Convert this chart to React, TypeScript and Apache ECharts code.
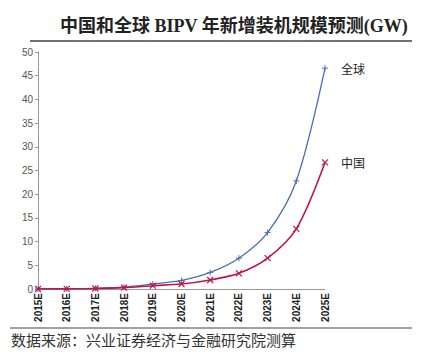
import React, { useEffect, useRef } from "react";
import * as echarts from "echarts";

const categories = ["2015E", "2016E", "2017E", "2018E", "2019E", "2020E", "2021E", "2022E", "2023E", "2024E", "2025E"];
const globalValues = [0.02, 0.05, 0.15, 0.4, 1.05, 1.8, 3.5, 6.5, 11.9, 22.8, 46.6];
const chinaValues = [0.01, 0.03, 0.1, 0.3, 0.7, 1.05, 1.9, 3.3, 6.5, 12.7, 26.7];
const seriesNames = ["全球", "中国"];
const titleText = "中国和全球 BIPV 年新增装机规模预测(GW)";
const sourceText = "数据来源：兴业证券经济与金融研究院测算";

const plusSymbol = "path://M0,5L10,5M5,0L5,10";
const crossSymbol = "path://M0,0L10,10M10,0L0,10";

export default function App() {
  const ref = useRef<HTMLDivElement>(null);
  useEffect(() => {
    const chart = echarts.init(ref.current!, null, { renderer: "svg" });
    chart.setOption({
      animation: false,
      backgroundColor: "#ffffff",
      grid: { left: 38, right: 102, top: 52, bottom: 70 },
      graphic: [
        {
          type: "text",
          left: 60,
          top: 17,
          style: {
            text: titleText,
            font: "bold 18px 'Liberation Serif', 'Noto Sans CJK SC', serif",
            fill: "#222222",
          },
        },
        {
          type: "line",
          shape: { x1: 30, y1: 41, x2: 412, y2: 41 },
          style: { stroke: "#444444", lineWidth: 1.5 },
        },
        {
          type: "line",
          shape: { x1: 10, y1: 328, x2: 412, y2: 328 },
          style: { stroke: "#444444", lineWidth: 1.2 },
        },
        {
          type: "text",
          left: 11,
          top: 332,
          style: {
            text: sourceText,
            font: "15px 'Noto Sans CJK SC', serif",
            fill: "#333333",
          },
        },
      ],
      xAxis: {
        type: "category",
        data: categories,
        boundaryGap: false,
        axisLine: { lineStyle: { color: "#999999", width: 1 } },
        axisTick: { show: false },
        axisLabel: {
          rotate: 90,
          interval: 0,
          color: "#222222",
          fontSize: 10,
          fontWeight: "bold",
          fontFamily: "'Liberation Sans', Arial, sans-serif",
          margin: 4,
        },
      },
      yAxis: {
        type: "value",
        min: 0,
        max: 50,
        interval: 5,
        splitLine: { show: false },
        axisLine: { show: true, lineStyle: { color: "#999999", width: 1 } },
        axisTick: { show: true, inside: false, length: 3, lineStyle: { color: "#999999" } },
        axisLabel: {
          color: "#555555",
          fontSize: 10,
          fontFamily: "'Liberation Sans', Arial, sans-serif",
          margin: 5,
        },
      },
      series: [
        {
          name: seriesNames[0],
          type: "line",
          data: globalValues,
          smooth: 0.3,
          symbol: plusSymbol,
          symbolSize: 6,
          showAllSymbol: true,
          lineStyle: { color: "#4a6db5", width: 1.3 },
          itemStyle: { color: "#4a6db5", borderColor: "#4a6db5", borderWidth: 1 },
          endLabel: {
            show: true,
            formatter: "{a}",
            color: "#222222",
            fontSize: 12,
            fontFamily: "'Noto Sans CJK SC', sans-serif",
            offset: [8, 0],
          },
          z: 2,
        },
        {
          name: seriesNames[1],
          type: "line",
          data: chinaValues,
          smooth: 0.3,
          symbol: crossSymbol,
          symbolSize: 6,
          showAllSymbol: true,
          lineStyle: { color: "#c01548", width: 1.6 },
          itemStyle: { color: "#c01548", borderColor: "#c01548", borderWidth: 1.2 },
          endLabel: {
            show: true,
            formatter: "{a}",
            color: "#222222",
            fontSize: 12,
            fontFamily: "'Noto Sans CJK SC', sans-serif",
            offset: [8, 0],
          },
          z: 3,
        },
      ],
    });
    return () => chart.dispose();
  }, []);
  return <div ref={ref} style={{ width: 427, height: 359, position: "absolute", left: 0, top: 0 }} />;
}
